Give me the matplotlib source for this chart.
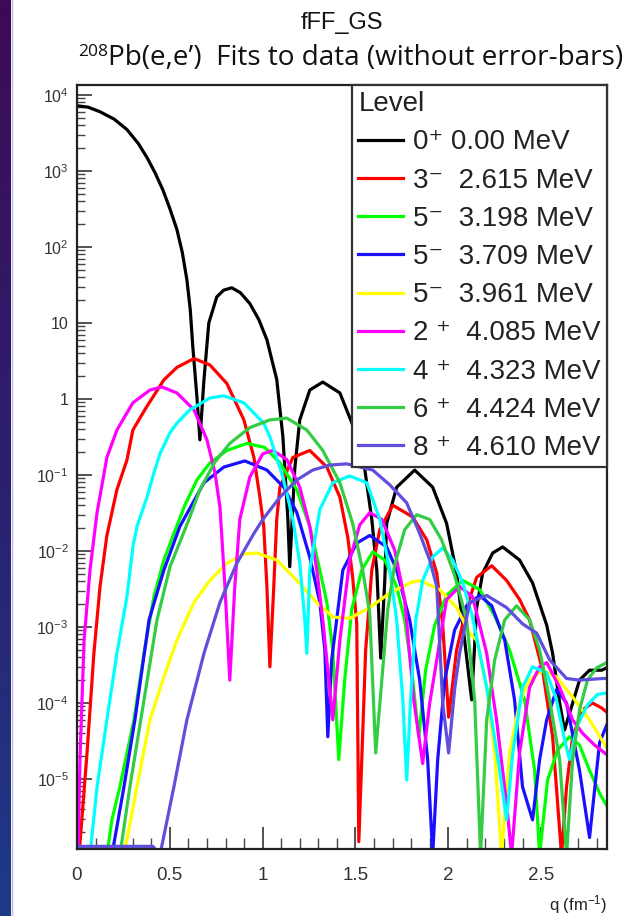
import numpy as np
import matplotlib
matplotlib.use("Agg")
import matplotlib.pyplot as plt
from matplotlib.ticker import FixedLocator, FixedFormatter, LogLocator, NullFormatter, MultipleLocator
from matplotlib.colors import LinearSegmentedColormap
from matplotlib.lines import Line2D

# ---------------- data (q in fm^-1, form-factor values) ----------------
black = [(0.000, 7.2e3), (0.060, 6.9e3), (0.124, 6.0e3), (0.200, 4.8e3), (0.269, 3.5e3), (0.330, 2.3e3),
         (0.377, 1.5e3), (0.420, 9.5e2), (0.463, 5.6e2), (0.500, 3.2e2), (0.538, 1.7e2), (0.567, 85),
         (0.592, 37), (0.610, 15), (0.624, 4.8), (0.646, 1.06), (0.662, 0.29), (0.684, 1.8), (0.710, 10),
         (0.753, 22), (0.790, 27), (0.834, 29), (0.880, 25), (0.931, 18), (0.980, 11), (1.023, 6.0),
         (1.076, 1.8), (1.109, 0.32), (1.136, 2.6e-2), (1.146, 6.2e-3),
         (1.173, 0.12), (1.200, 0.53), (1.254, 1.31), (1.324, 1.67), (1.416, 1.2), (1.496, 0.39), (1.550, 0.12),
         (1.588, 2.6e-2), (1.615, 5.6e-3), (1.636, 3.9e-4), (1.658, 4.1e-3), (1.668, 2.3e-2), (1.722, 6.9e-2),
         (1.819, 0.116), (1.916, 6.9e-2), (1.991, 2.3e-2), (2.045, 5.1e-3), (2.088, 6.7e-4), (2.126, 1.1e-4),
         (2.153, 1.8e-3), (2.185, 5.1e-3), (2.239, 9.4e-3), (2.293, 1.13e-2), (2.384, 7.6e-3), (2.454, 3.8e-3),
         (2.530, 1.06e-3), (2.562, 4.5e-4), (2.600, 1.0e-4), (2.626, 4.4e-5), (2.670, 1.0e-4), (2.707, 2.0e-4),
         (2.761, 2.7e-4), (2.826, 2.7e-4), (2.853, 2.9e-4)]
red = [(0.011, 1.0e-6), (0.054, 2.2e-5), (0.091, 4.5e-4), (0.124, 3.4e-3), (0.161, 1.6e-2), (0.215, 6.4e-2),
       (0.269, 0.157), (0.301, 0.39), (0.371, 0.76), (0.468, 1.78), (0.538, 2.6), (0.630, 3.4), (0.716, 2.8),
       (0.807, 1.6), (0.899, 0.53), (0.953, 0.17), (0.985, 5.1e-2), (1.006, 2.1e-2), (1.023, 3.4e-3),
       (1.039, 3.0e-4), (1.060, 3.4e-3), (1.076, 2.6e-2), (1.093, 6.9e-2), (1.163, 0.17), (1.254, 0.21),
       (1.346, 0.127), (1.416, 5.1e-2), (1.459, 1.5e-2), (1.485, 4.5e-3), (1.507, 1.1e-3), (1.518, 1.5e-6),
       (1.534, 1.8e-5), (1.555, 5.0e-4), (1.588, 5.6e-3), (1.631, 1.9e-2), (1.701, 4.0e-2), (1.808, 2.8e-2),
       (1.884, 1.4e-2), (1.938, 5.1e-3), (1.970, 1.06e-3), (2.002, 6.5e-5), (2.045, 5.0e-4), (2.099, 1.8e-3),
       (2.153, 4.5e-3), (2.234, 6.4e-3), (2.314, 4.1e-3), (2.384, 2.3e-3), (2.438, 1.24e-3), (2.508, 2.7e-4),
       (2.562, 3.6e-5), (2.610, 1.0e-6), (2.637, 7.9e-6), (2.670, 3.6e-5), (2.723, 8.1e-5), (2.777, 1.0e-4),
       (2.826, 8.6e-5), (2.853, 7.6e-5)]
green = [(0.161, 1.0e-6), (0.188, 2.9e-6), (0.231, 7.9e-6), (0.307, 6.0e-5), (0.361, 4.5e-4), (0.414, 2.5e-3),
         (0.468, 7.6e-3), (0.522, 1.7e-2), (0.581, 4.0e-2), (0.646, 8.6e-2), (0.716, 0.144), (0.807, 0.21),
         (0.915, 0.26), (1.012, 0.23), (1.093, 0.144), (1.184, 6.4e-2), (1.254, 2.1e-2), (1.308, 5.6e-3),
         (1.346, 2.1e-3), (1.378, 5.0e-4), (1.410, 1.8e-5), (1.442, 2.0e-4), (1.480, 1.7e-3), (1.534, 5.6e-3),
         (1.593, 9.7e-3), (1.658, 7.6e-3), (1.722, 3.4e-3), (1.765, 1.24e-3), (1.803, 2.7e-4), (1.841, 3.6e-5),
         (1.878, 2.7e-4), (1.927, 1.06e-3), (1.991, 2.6e-3), (2.078, 4.1e-3), (2.169, 3.1e-3), (2.250, 1.4e-3),
         (2.330, 5.0e-4), (2.411, 1.1e-4), (2.465, 1.3e-5), (2.492, 1.0e-6), (2.535, 9.7e-6), (2.589, 2.4e-5),
         (2.653, 3.6e-5), (2.707, 2.8e-5), (2.761, 1.3e-5), (2.815, 6.5e-6), (2.853, 4.5e-6)]
blue = [(0.188, 1.0e-6), (0.253, 7.9e-6), (0.312, 6.0e-5), (0.388, 1.24e-3), (0.468, 5.6e-3), (0.554, 2.1e-2),
        (0.684, 7.9e-2), (0.791, 0.127), (0.904, 0.153), (1.023, 0.116), (1.114, 6.9e-2), (1.184, 3.2e-2),
        (1.254, 8.3e-3), (1.308, 2.1e-3), (1.335, 5.0e-4), (1.351, 3.6e-5), (1.372, 3.7e-4), (1.432, 5.6e-3),
        (1.507, 1.27e-2), (1.577, 1.6e-2), (1.668, 1.13e-2), (1.722, 5.6e-3), (1.792, 1.24e-3), (1.846, 2.0e-4),
        (1.889, 1.8e-5), (1.916, 1.0e-6), (1.943, 1.8e-5), (1.981, 2.0e-4), (2.034, 9.1e-4), (2.099, 1.9e-3),
        (2.169, 2.6e-3), (2.234, 1.9e-3), (2.304, 6.7e-4), (2.357, 1.1e-4), (2.400, 7.9e-6), (2.454, 2.9e-6),
        (2.492, 1.8e-5), (2.530, 6.0e-5), (2.583, 1.5e-4), (2.637, 1.0e-4), (2.707, 1.3e-5), (2.761, 1.7e-6),
        (2.815, 3.0e-5), (2.853, 5.1e-5)]
yellow = [(0.253, 1.0e-6), (0.323, 7.9e-6), (0.393, 6.0e-5), (0.468, 2.2e-4), (0.538, 6.7e-4), (0.630, 2.1e-3),
          (0.716, 4.1e-3), (0.807, 6.9e-3), (0.899, 9.1e-3), (0.969, 9.4e-3), (1.076, 7.6e-3), (1.184, 4.1e-3),
          (1.292, 2.1e-3), (1.378, 1.35e-3), (1.469, 1.3e-3), (1.577, 1.8e-3), (1.685, 2.8e-3), (1.792, 3.8e-3),
          (1.846, 4.1e-3), (1.954, 3.1e-3), (2.045, 1.8e-3), (2.115, 8.3e-4), (2.153, 6.7e-4), (2.207, 1.6e-4),
          (2.250, 2.2e-5), (2.287, 1.0e-6), (2.330, 2.2e-5), (2.384, 1.0e-4), (2.438, 2.0e-4), (2.508, 2.7e-4),
          (2.583, 2.2e-4), (2.670, 1.2e-4), (2.761, 6.0e-5), (2.826, 3.3e-5), (2.853, 2.6e-5)]
magenta = [(0.005, 1.0e-6), (0.016, 1.8e-5), (0.038, 6.7e-4), (0.070, 5.6e-3), (0.108, 3.2e-2), (0.161, 0.17),
           (0.215, 0.39), (0.301, 0.89), (0.393, 1.31), (0.457, 1.44), (0.538, 1.2), (0.630, 0.72), (0.700, 0.29),
           (0.743, 0.107), (0.770, 3.8e-2), (0.797, 3.4e-3), (0.823, 2.0e-4), (0.850, 3.4e-3), (0.877, 2.6e-2),
           (0.931, 9.4e-2), (1.001, 0.19), (1.055, 0.21), (1.130, 0.16), (1.200, 6.9e-2), (1.254, 2.1e-2),
           (1.292, 5.6e-3), (1.324, 1.24e-3), (1.378, 6.0e-5), (1.416, 6.7e-4), (1.469, 7.6e-3), (1.523, 2.2e-2),
           (1.577, 3.2e-2), (1.642, 2.6e-2), (1.711, 1.03e-2), (1.765, 2.3e-3), (1.814, 1.1e-4), (1.862, 1.6e-5),
           (1.900, 1.0e-4), (1.938, 3.7e-4), (1.991, 2.3e-3), (2.061, 3.4e-3), (2.131, 2.5e-3), (2.207, 4.5e-4),
           (2.260, 6.0e-5), (2.314, 4.8e-6), (2.341, 1.0e-6), (2.384, 2.2e-5), (2.438, 1.6e-4), (2.492, 3.0e-4),
           (2.530, 3.4e-4), (2.600, 1.6e-4), (2.670, 6.0e-5), (2.723, 4.0e-5), (2.788, 2.8e-5), (2.853, 2.1e-5)]
cyan = [(0.070, 1.0e-6), (0.108, 7.9e-6), (0.161, 6.0e-5), (0.215, 4.5e-4), (0.269, 2.5e-3), (0.301, 1.13e-2),
        (0.323, 2.1e-2), (0.377, 5.1e-2), (0.414, 0.106), (0.447, 0.19), (0.501, 0.36), (0.538, 0.48),
        (0.608, 0.72), (0.716, 1.03), (0.791, 1.1), (0.899, 0.89), (1.006, 0.48), (1.039, 0.32), (1.109, 9.4e-2),
        (1.163, 2.6e-2), (1.200, 6.9e-3), (1.227, 1.24e-3), (1.238, 4.5e-4), (1.254, 5.6e-3), (1.308, 3.5e-2),
        (1.378, 7.9e-2), (1.469, 9.7e-2), (1.561, 7.9e-2), (1.631, 2.6e-2), (1.685, 5.6e-3), (1.722, 1.24e-3),
        (1.755, 1.1e-4), (1.776, 9.7e-6), (1.797, 1.1e-4), (1.825, 1.24e-3), (1.862, 4.1e-3), (1.916, 8.3e-3),
        (1.970, 1.1e-2), (2.024, 7.6e-3), (2.078, 3.8e-3), (2.131, 1.35e-3), (2.207, 1.6e-4), (2.277, 1.3e-5),
        (2.314, 2.9e-6), (2.347, 2.2e-5), (2.400, 1.6e-4), (2.454, 3.0e-4), (2.530, 2.5e-4), (2.583, 1.1e-4),
        (2.626, 3.3e-5), (2.653, 1.8e-5), (2.696, 5.1e-5), (2.750, 9.4e-5), (2.804, 1.3e-4), (2.853, 1.35e-4)]
green6 = [(0.231, 1.0e-6), (0.285, 7.9e-6), (0.361, 1.1e-4), (0.431, 1.24e-3), (0.501, 6.2e-3), (0.603, 2.6e-2),
          (0.662, 6.4e-2), (0.743, 0.148), (0.823, 0.26), (0.931, 0.42), (1.039, 0.53), (1.130, 0.56),
          (1.238, 0.39), (1.324, 0.21), (1.416, 7.9e-2), (1.485, 2.3e-2), (1.539, 5.6e-3), (1.577, 1.5e-3),
          (1.609, 2.2e-5), (1.642, 2.0e-4), (1.674, 1.7e-3), (1.711, 6.5e-3), (1.765, 1.9e-2), (1.830, 3.0e-2),
          (1.900, 2.6e-2), (1.964, 1.4e-2), (2.034, 4.8e-3), (2.099, 1.24e-3), (2.142, 1.1e-4), (2.174, 1.0e-6),
          (2.207, 6.0e-5), (2.250, 3.7e-4), (2.304, 1.24e-3), (2.368, 1.9e-3), (2.438, 1.24e-3), (2.492, 5.0e-4),
          (2.546, 1.1e-4), (2.600, 1.8e-5), (2.637, 1.0e-6), (2.670, 1.8e-5), (2.707, 8.1e-5), (2.750, 2.0e-4),
          (2.799, 2.9e-4), (2.853, 3.4e-4)]
purple = [(0.000, 1.3e-6), (0.409, 1.3e-6), (0.447, 1.0e-6), (0.522, 7.9e-6), (0.592, 6.0e-5), (0.684, 4.5e-4),
          (0.770, 2.1e-3), (0.861, 6.9e-3), (0.953, 1.7e-2), (1.001, 2.6e-2), (1.093, 5.1e-2), (1.184, 8.6e-2),
          (1.270, 0.116), (1.362, 0.135), (1.453, 0.14), (1.593, 0.116), (1.685, 7.4e-2), (1.776, 4.3e-2),
          (1.846, 1.7e-2), (1.900, 7.6e-3), (1.938, 3.4e-3), (1.970, 1.0e-4), (2.002, 2.2e-5), (2.034, 1.5e-4),
          (2.061, 4.5e-4), (2.115, 2.1e-3), (2.207, 2.6e-3), (2.314, 1.8e-3), (2.400, 1.1e-3), (2.476, 8.3e-4),
          (2.546, 3.7e-4), (2.637, 2.1e-4), (2.707, 2.0e-4), (2.831, 2.1e-4), (2.853, 2.1e-4)]

series = [black, red, green, blue, yellow, magenta, cyan, green6, purple]
labels = ["0\u207a 0.00 MeV", "3\u207b  2.615 MeV", "5\u207b  3.198 MeV", "5\u207b  3.709 MeV",
          "5\u207b  3.961 MeV", "2 \u207a  4.085 MeV", "4 \u207a  4.323 MeV", "6 \u207a  4.424 MeV",
          "8 \u207a  4.610 MeV"]
colors = ["#000000", "#ff0000", "#00ff00", "#1a0fff", "#ffff00", "#ff00ff", "#00ffff", "#33cc44", "#5f4fdc"]

ytick_vals = [1e-5, 1e-4, 1e-3, 1e-2, 1e-1, 1, 10, 1e2, 1e3, 1e4]
ytick_labels = [r"$10^{-5}$", r"$10^{-4}$", r"$10^{-3}$", r"$10^{-2}$", r"$10^{-1}$", "1", "10",
                r"$10^{2}$", r"$10^{3}$", r"$10^{4}$"]
xtick_vals = [0, 0.5, 1, 1.5, 2, 2.5]
xtick_labels = ["0", "0.5", "1", "1.5", "2", "2.5"]

# ---------------- style ----------------
plt.rcParams["font.family"] = ["Liberation Sans", "DejaVu Sans"]
plt.rcParams["mathtext.fontset"] = "custom"
plt.rcParams["mathtext.rm"] = "Liberation Sans"
plt.rcParams["mathtext.it"] = "Liberation Sans:italic"
plt.rcParams["mathtext.bf"] = "Liberation Sans:bold"

W, H = 631, 916
fig = plt.figure(figsize=(W / 100, H / 100), dpi=100)
fig.patch.set_facecolor("white")

# left decorative strip (slide background)
sax = fig.add_axes([0, 0, 11 / W, 1])
grad = np.linspace(0, 1, 256)[:, None]
cmap = LinearSegmentedColormap.from_list("bg", ["#3d0a55", "#2c1f6f", "#1e3a86"])
sax.imshow(grad, aspect="auto", cmap=cmap, extent=[0, 1, 0, 1], origin="upper")
sax.axis("off")
fig.add_artist(Line2D([11.5 / W, 11.5 / W], [0, 1], color="#bcb6e0", lw=1.0))

ax = fig.add_axes([77 / W, 1 - 849 / H, (607 - 77) / W, (849 - 85) / H])
for pts, lab, col in zip(series, labels, colors):
    q = [p[0] for p in pts]
    v = [p[1] for p in pts]
    ax.plot(q, v, color=col, lw=2.3, label=lab, solid_joinstyle="round")

ax.set_yscale("log")
ax.set_ylim(1.2e-6, 1.35e4)
ax.set_xlim(0, 2.855)
ax.yaxis.set_major_locator(FixedLocator(ytick_vals))
ax.yaxis.set_major_formatter(FixedFormatter(ytick_labels))
ax.yaxis.set_minor_locator(LogLocator(base=10, subs=np.arange(2, 10), numticks=60))
ax.yaxis.set_minor_formatter(NullFormatter())
ax.xaxis.set_major_locator(FixedLocator(xtick_vals))
ax.xaxis.set_major_formatter(FixedFormatter(xtick_labels))
ax.xaxis.set_minor_locator(MultipleLocator(0.1))
ax.tick_params(axis="both", which="both", direction="in", top=False, right=False, color="#444444")
ax.tick_params(axis="y", which="major", length=11, width=1.3, labelsize=11.5, pad=6, labelcolor="#333333")
ax.tick_params(axis="y", which="minor", length=5.5, width=1.0)
ax.tick_params(axis="x", which="major", length=16, width=1.3, labelsize=13.5, pad=13, labelcolor="#333333")
ax.tick_params(axis="x", which="minor", length=8, width=1.0)
for s in ax.spines.values():
    s.set_linewidth(1.6)
    s.set_color("#222222")

leg = ax.legend(loc="upper right", bbox_to_anchor=(1, 1), borderaxespad=0, title="Level",
                alignment="left", fontsize=20, title_fontsize=20, frameon=True, fancybox=False,
                edgecolor="#333333", framealpha=1, handlelength=1.62, handletextpad=0.36,
                labelspacing=0.44, borderpad=0.22)
leg.get_frame().set_linewidth(1.6)
for t in leg.get_texts():
    t.set_color("#222222")
leg.get_title().set_color("#222222")

# titles
fig.text(342 / W, 1 - 29 / H, "fFF_GS", ha="center", va="baseline", fontsize=17, color="#111111")

r = fig.canvas.get_renderer()
main_str = "Pb(e,e\u2019)  Fits to data (without error-bars)"
fs = 17
t_main = fig.text(0, 1 - 65 / H, main_str, fontsize=fs, family="Open Sans", va="baseline", ha="left",
                  color="#111111")
t_sup = fig.text(0, 1 - 56 / H, "208", fontsize=fs * 0.62, family="Open Sans", va="baseline", ha="left",
                 color="#111111")
wm = t_main.get_window_extent(r).width
ws = t_sup.get_window_extent(r).width
scale = 547 / (wm + ws)
fs = fs * scale
t_main.set_fontsize(fs)
t_sup.set_fontsize(fs * 0.62)
wm = t_main.get_window_extent(r).width
ws = t_sup.get_window_extent(r).width
x0 = 351 - (wm + ws) / 2
t_sup.set_x(x0 / W)
t_main.set_x((x0 + ws) / W)

fig.text(607 / W, 1 - 910 / H, r"q (fm$^{-1}$)", ha="right", va="baseline", fontsize=12, color="#222222")

fig.savefig("out.png", dpi=100, facecolor="white")
